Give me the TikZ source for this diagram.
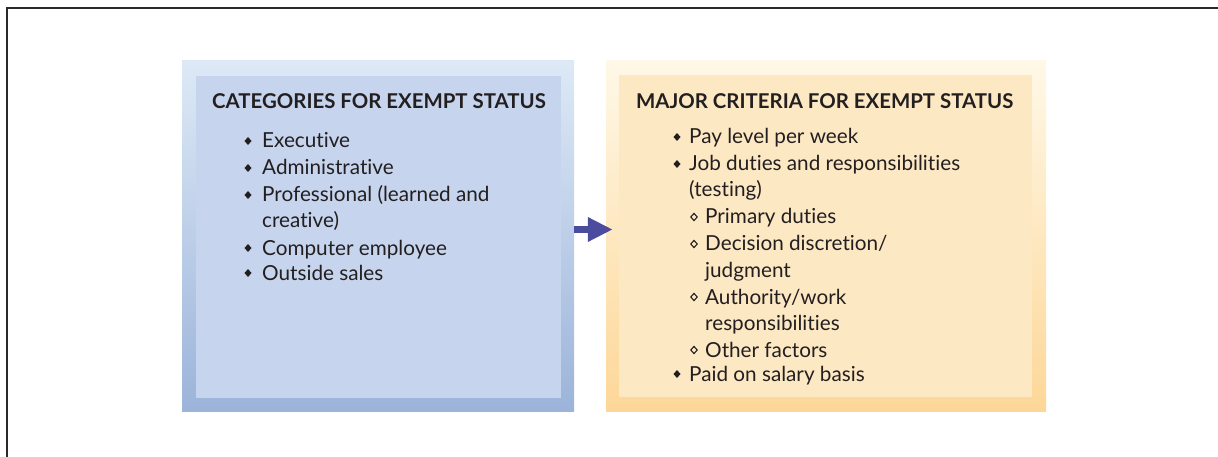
\documentclass[tikz,border=0pt]{standalone}
\usepackage{fontspec}
\setmainfont[Ligatures=NoCommon]{Lato}
\usetikzlibrary{arrows.meta}
\definecolor{ink}{HTML}{231F20}
\definecolor{frameC}{HTML}{2A2A2A}
\definecolor{blueTop}{HTML}{DDE9F6}
\definecolor{blueBot}{HTML}{9CB4DA}
\definecolor{blueIn}{HTML}{C6D4ED}
\definecolor{orTop}{HTML}{FFF8E7}
\definecolor{orBot}{HTML}{FDD798}
\definecolor{orIn}{HTML}{FDE8C4}
\definecolor{arrowC}{HTML}{4B4C9E}
\begin{document}
\begin{tikzpicture}[x=1pt,y=-1pt,
  outerbox/.style={draw=none, inner sep=0, minimum height=350pt},
  innerbox/.style={draw=none, inner sep=0, minimum height=322pt},
  txt/.style={anchor=base west, inner sep=0, text=ink, font=\fontsize{20.7}{24}\selectfont},
  ttl/.style={anchor=base west, inner sep=0, text=ink, font=\fontsize{20.4}{24}\selectfont\bfseries},
  fd/.pic={\fill[ink] (-3.5,0) -- (0,-4) -- (3.5,0) -- (0,4) -- cycle;},
  od/.pic={\draw[ink, line width=1.1pt] (-3.2,0) -- (0,-3.6) -- (3.2,0) -- (0,3.6) -- cycle;}
]
\useasboundingbox (0,0) rectangle (1218,457);
% frame
\coordinate (fb) at (7,457);
\coordinate (fc) at (7,8);
\coordinate (fr) at (1218,8);
\draw[frameC, line width=1.5pt] (fb) -- (fc) -- (fr);

% left box
\node[outerbox, minimum width=392pt, top color=blueTop, bottom color=blueBot] (L) at (378,236) {};
\node[innerbox, minimum width=365pt, fill=blueIn] (Li) at (378.5,237) {};
% right box
\node[outerbox, minimum width=440pt, top color=orTop, bottom color=orBot] (R) at (826,236) {};
\node[innerbox, minimum width=413pt, fill=orIn] (Ri) at (825.5,236) {};

% arrow
\draw[arrowC, line width=7pt, -{Triangle[length=25pt,width=23pt]}]
  ([yshift=6.5pt]L.east) -- ([xshift=7pt,yshift=6.5pt]R.west);

% left text
\node[ttl] (lt) at (212,109) {CATEGORIES FOR EXEMPT STATUS};
\node[txt] (l1) at (262,148) {Executive};
\node[txt] (l2) at (262,175) {Administrative};
\node[txt] (l3) at (262,202) {Professional (learned and};
\node[txt] (l3b) at (262,228) {creative)};
\node[txt] (l4) at (262,255) {Computer employee};
\node[txt] (l5) at (262,280) {Outside sales};
\foreach \yy in {148,175,202,255,280} \pic at (248,\yy-7) {fd};

% right text
\node[ttl] (rt) at (636,109) {MAJOR CRITERIA FOR EXEMPT STATUS};
\node[txt] (r1) at (689,144) {Pay level per week};
\node[txt] (r2) at (689,171) {Job duties and responsibilities};
\node[txt] (r2b) at (689,197) {(testing)};
\node[txt] (r3) at (705,224) {Primary duties};
\node[txt] (r4) at (705,251) {Decision discretion/};
\node[txt] (r4b) at (705,277) {judgment};
\node[txt] (r5) at (705,304) {Authority/work};
\node[txt] (r5b) at (705,330) {responsibilities};
\node[txt] (r6) at (705,357) {Other factors};
\node[txt] (r7) at (689,381) {Paid on salary basis};
\foreach \yy in {144,171,381} \pic at (677,\yy-7) {fd};
\foreach \yy in {224,251,304,357} \pic at (694,\yy-7) {od};
\end{tikzpicture}
\end{document}
